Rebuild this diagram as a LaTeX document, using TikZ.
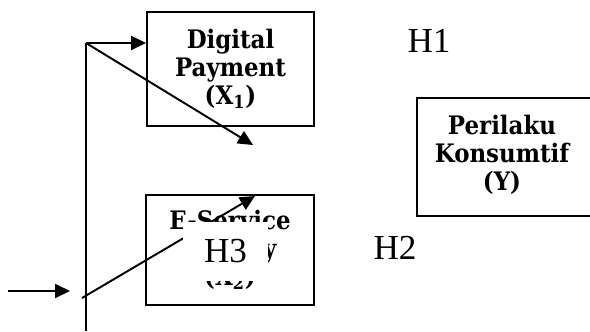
\documentclass[tikz,border=0pt]{standalone}
\usepackage{fontspec}
\setmainfont{Liberation Serif}
\newfontfamily\boxfont{DejaVu Serif}[FakeStretch=0.9]
\usetikzlibrary{arrows.meta}

\tikzset{
  box/.style={draw, line width=1.1pt, align=center, inner sep=0pt,
    font=\boxfont\bfseries\fontsize{14.5}{15.9}\selectfont},
  hyp/.style={inner sep=0pt, font=\fontsize{20}{22}\selectfont},
  ln/.style={line width=1.1pt},
  arr/.style={line width=1.1pt, -{Triangle[length=3mm,width=2.8mm]}}
}

\begin{document}
\begin{tikzpicture}[x=0.02cm,y=-0.02cm]
\useasboundingbox (0,0) rectangle (590,331);

\node[box, minimum width=3.34cm, minimum height=2.28cm] (dp) at (230.5,69) {Digital\\Payment\\(X\textsubscript{1})};
\node[box, minimum width=3.36cm, minimum height=2.2cm] (es) at (230,250) {E-Service\\Quality\\(X\textsubscript{2})};

\draw[ln] (595,98) -- (417,98) -- (417,216) -- (595,216);
\node[box, draw=none] (pk) at (502,155) {Perilaku\\Konsumtif\\(Y)};

\node[hyp] (h1) at (429,41) {H1};
\node[hyp] (h2) at (395,248) {H2};

\coordinate (top) at (86,43);
\coordinate (bot) at (86,331);
\coordinate (in_st) at (8,291);
\coordinate (in_e) at (70,291);
\coordinate (cross_st) at (82,298);
\coordinate (tip1) at (253,145);
\coordinate (tip2) at (255,196);

\draw[ln] (top)--(bot);
\draw[arr] (top)--(dp.west |- top);
\draw[arr] (top)--(tip1);
\draw[arr] (in_st)--(in_e);
\draw[arr] (cross_st)--(tip2);

% H3 sits on top of the box
\node[hyp, fill=white, minimum width=1.72cm, minimum height=1.18cm] (h3) at (225.5,251.5) {H3};
\end{tikzpicture}
\end{document}
